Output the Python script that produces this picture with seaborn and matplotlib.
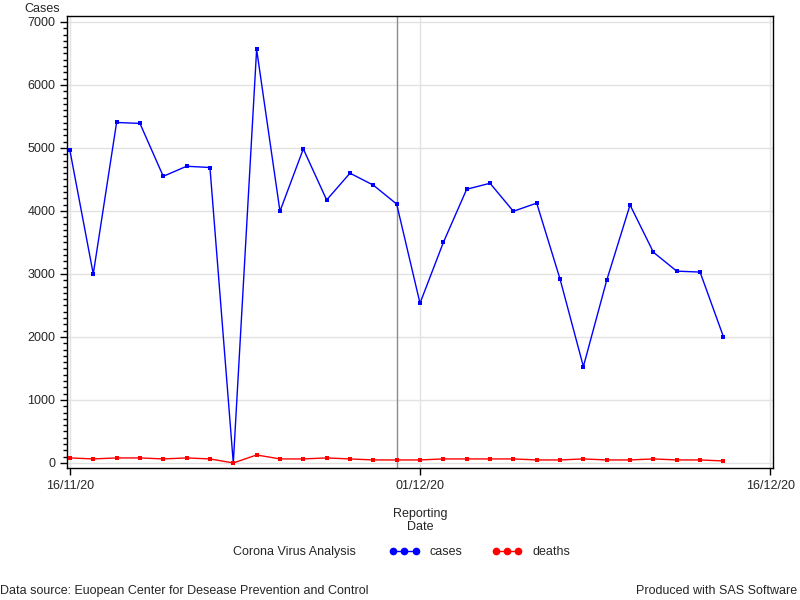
import pandas as pd
import matplotlib.pyplot as plt
import matplotlib.dates as mdates
from matplotlib.lines import Line2D
from matplotlib.ticker import MultipleLocator
import seaborn as sns

# Daily values
dates = pd.date_range('2020-11-16', '2020-12-14', freq='D')
cases = [4960, 3000, 5405, 5390, 4550, 4710, 4690, 0, 6565, 3995,
         4985, 4175, 4600, 4410, 4110, 2535, 3500, 4345, 4440, 3995,
         4125, 2920, 1530, 2900, 4095, 3345, 3045, 3030, 2005]
deaths = [80, 64, 80, 80, 64, 80, 64, 0, 127, 64,
          64, 80, 64, 48, 48, 48, 64, 64, 64, 64,
          48, 48, 64, 48, 48, 64, 48, 48, 32]
ref_date = pd.Timestamp('2020-11-30')
x_ticks = pd.to_datetime(['2020-11-16', '2020-12-01', '2020-12-16'])

df = pd.DataFrame({'date': dates, 'cases': cases, 'deaths': deaths})

sns.set_style("white")
plt.rcParams['font.family'] = ['Liberation Sans', 'DejaVu Sans']
plt.rcParams['font.size'] = 9

fig = plt.figure(figsize=(8, 6), dpi=100)
ax = fig.add_axes([67 / 800, 1 - 468 / 600, 706 / 800, 452 / 600])

ax.axvline(ref_date, color='#8c8c8c', lw=1, zorder=1)
sns.lineplot(data=df, x='date', y='cases', color='blue', marker='s',
             markersize=2.5, markeredgewidth=0, lw=1, ax=ax, zorder=3)
sns.lineplot(data=df, x='date', y='deaths', color='red', marker='s',
             markersize=2.5, markeredgewidth=0, lw=1, ax=ax, zorder=3)

pad = pd.Timedelta(hours=3)
ax.set_xlim(x_ticks[0] - pad, x_ticks[-1] + pad)
ax.set_ylim(-80, 7095)
ax.set_xticks(x_ticks)
ax.xaxis.set_major_formatter(mdates.DateFormatter('%d/%m/%y'))
ax.yaxis.set_major_locator(MultipleLocator(1000))
ax.yaxis.set_minor_locator(MultipleLocator(100))
ax.grid(True, which='major', color='#e2e2e2', lw=1, zorder=0)
ax.set_axisbelow(True)
ax.tick_params(axis='both', which='major', direction='out', length=5,
               width=1, color='black', labelsize=9, bottom=True, left=True)
ax.tick_params(axis='y', which='minor', direction='out', length=3,
               width=1, color='black', left=True)
for s in ax.spines.values():
    s.set_color('black')
    s.set_linewidth(1)

ax.set_ylabel('')
ax.set_xlabel('Reporting\nDate', fontsize=9, labelpad=12, linespacing=1.1)
fig.text(42 / 800, 1 - 9 / 600, 'Cases', ha='center', va='center', fontsize=9)

# legend row
fig.text(233 / 800, 1 - 552 / 600, 'Corona Virus Analysis', ha='left',
         va='center', fontsize=9)
handles = [Line2D([], [], color='blue', marker='o', markersize=4.5, lw=1),
           Line2D([], [], color='red', marker='o', markersize=4.5, lw=1)]
fig.legend(handles, ['cases', 'deaths'], loc='center left',
           bbox_to_anchor=(378 / 800, 1 - 552 / 600), ncol=2, frameon=False,
           numpoints=3, handlelength=2.4, handletextpad=0.8,
           columnspacing=2.4, fontsize=9)

fig.text(0 / 800, 1 - 591 / 600,
         'Data source: Euopean Center for Desease Prevention and Control',
         ha='left', va='center', fontsize=9)
fig.text(797 / 800, 1 - 591 / 600, 'Produced with SAS Software',
         ha='right', va='center', fontsize=9)

fig.savefig('out.png', dpi=100)
